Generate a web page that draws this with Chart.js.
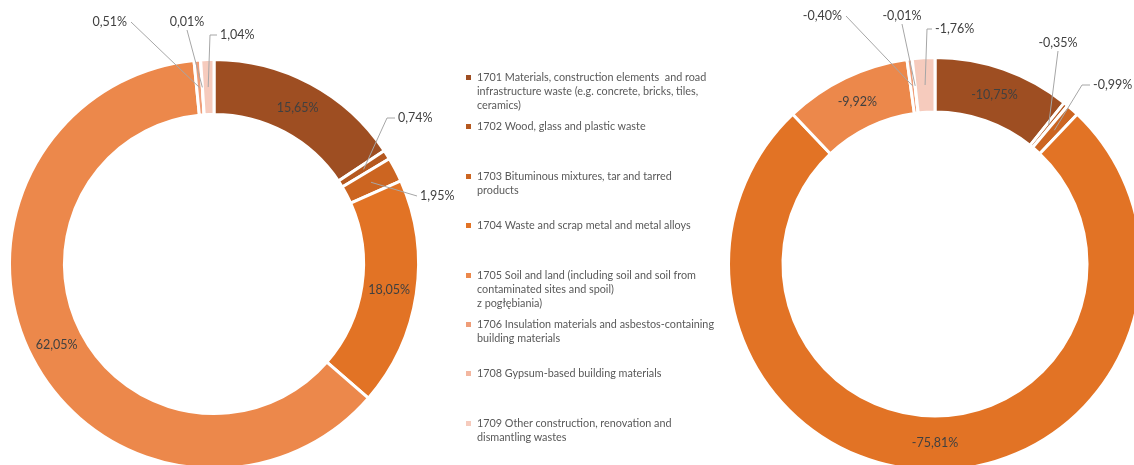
<!DOCTYPE html>
<html>
<head>
<meta charset="utf-8">
<script src="https://cdn.jsdelivr.net/npm/chart.js@4/dist/chart.umd.min.js"></script>
<style>
  html, body { margin: 0; padding: 0; background: #fff; }
  body { width: 1134px; height: 465px; overflow: hidden; position: relative; font-family: Lato, "Open Sans", sans-serif; }
  canvas { position: absolute; top: 0; }
  #leftChart { left: 0; }
  #rightChart { left: 700px; }
  #legend { position: absolute; left: 466px; top: 70px; width: 270px; }
  .item { height: 49.4px; display: flex; }
  .box { width: 5px; height: 5px; margin-top: 5px; margin-right: 6px; flex: none; }
  .txt { font-size: 10.8px; line-height: 14px; color: #595959; white-space: pre; }
</style>
</head>
<body>
<canvas id="leftChart" width="460" height="480"></canvas>
<canvas id="rightChart" width="460" height="480"></canvas>
<div id="legend"></div>
<script>
// waste groups (legend text, line breaks as in the original)
const categories = [
  ["1701 Materials, construction elements  and road", "infrastructure waste (e.g. concrete, bricks, tiles,", "ceramics)"],
  ["1702 Wood, glass and plastic waste"],
  ["1703 Bituminous mixtures, tar and tarred", "products"],
  ["1704 Waste and scrap metal and metal alloys"],
  ["1705 Soil and land (including soil and soil from", "contaminated sites and spoil)", "z pogłębiania)"],
  ["1706 Insulation materials and asbestos-containing", "building materials"],
  ["1708 Gypsum-based building materials"],
  ["1709 Other construction, renovation and", "dismantling wastes"],
];
// left ring: share in %, right ring: change in %
const shareValues = [15.65, 0.74, 1.95, 18.05, 62.05, 0.51, 0.01, 1.04];
const changeValues = [-10.75, -0.35, -0.99, -75.81, -9.92, -0.40, -0.01, -1.76];
const colors = ["#9e4e22", "#b5581f", "#cc6521", "#e27325", "#ec884b", "#ef9d78", "#f3b7a0", "#f6cbbd"];

const fmt = (v) => v.toFixed(2).replace(".", ",") + "%";

// data labels: inside the ring or outside with a grey leader line
const sliceLabels = {
  id: "sliceLabels",
  afterDatasetsDraw(chart, args, opts) {
    const ctx = chart.ctx;
    const meta = chart.getDatasetMeta(0);
    const values = chart.data.datasets[0].data;
    ctx.save();
    ctx.font = "12.5px Lato";
    ctx.fillStyle = "#404040";
    ctx.textBaseline = "middle";
    opts.inside.forEach((i) => {
      const p = meta.data[i].tooltipPosition();
      ctx.textAlign = "center";
      ctx.fillText(fmt(values[i]), p.x, p.y);
    });
    opts.callouts.forEach((c) => {
      const arc = meta.data[c.i];
      const p = arc.tooltipPosition();
      const tx = arc.x + c.dx;
      const ty = arc.y + c.dy;
      ctx.textAlign = c.align;
      ctx.fillText(fmt(values[c.i]), tx, ty);
      let sx = tx, sy = ty;
      if (c.align === "right") sx += 4;
      else if (c.align === "left") sx -= 3;
      else sy += 8;
      ctx.strokeStyle = "#a6a6a6";
      ctx.lineWidth = 1;
      ctx.beginPath();
      ctx.moveTo(sx, sy);
      if (c.elbow) ctx.lineTo(sx - c.elbow, sy);
      ctx.lineTo(p.x, p.y);
      ctx.stroke();
    });
    ctx.restore();
  },
};

function makeDonut(el, values, radius, cutout, padding, inside, callouts) {
  return new Chart(el, {
    type: "doughnut",
    data: {
      labels: categories,
      datasets: [
        {
          data: values,
          backgroundColor: colors,
          borderColor: "#ffffff",
          borderWidth: 3,
          hoverOffset: 0,
        },
      ],
    },
    options: {
      responsive: false,
      animation: false,
      radius: radius,
      cutout: cutout,
      layout: { padding: padding },
      plugins: {
        legend: { display: false },
        tooltip: { enabled: false },
        sliceLabels: { inside, callouts },
      },
    },
    plugins: [sliceLabels],
  });
}

makeDonut($("#leftChart"), shareValues, 204.5, 152.5,
  { left: 4, right: 36, top: 54, bottom: 6 },
  [0, 3, 4],
  [
    { i: 5, dx: -87, dy: -242, align: "right" },
    { i: 6, dx: -27, dy: -242, align: "center" },
    { i: 7, dx: 6, dy: -229, align: "left", elbow: 7 },
    { i: 1, dx: 184, dy: -146, align: "left", elbow: 8 },
    { i: 2, dx: 206, dy: -68, align: "left" },
  ]);

makeDonut($("#rightChart"), changeValues, 206.5, 153.5,
  { left: 25, right: 15, top: 54, bottom: 6 },
  [0, 3, 4],
  [
    { i: 5, dx: -93, dy: -248, align: "right" },
    { i: 6, dx: -33, dy: -248, align: "center" },
    { i: 7, dx: 0, dy: -235, align: "left", elbow: 5 },
    { i: 1, dx: 123, dy: -221, align: "center" },
    { i: 2, dx: 158, dy: -179, align: "left", elbow: 8 },
  ]);

function $(sel) {
  return document.querySelector(sel);
}

// legend in the middle
const legend = $("#legend");
categories.forEach((lines, i) => {
  const item = document.createElement("div");
  item.className = "item";
  const box = document.createElement("div");
  box.className = "box";
  box.style.background = colors[i];
  const txt = document.createElement("div");
  txt.className = "txt";
  txt.textContent = lines.join("\n");
  item.appendChild(box);
  item.appendChild(txt);
  legend.appendChild(item);
});
</script>
</body>
</html>
